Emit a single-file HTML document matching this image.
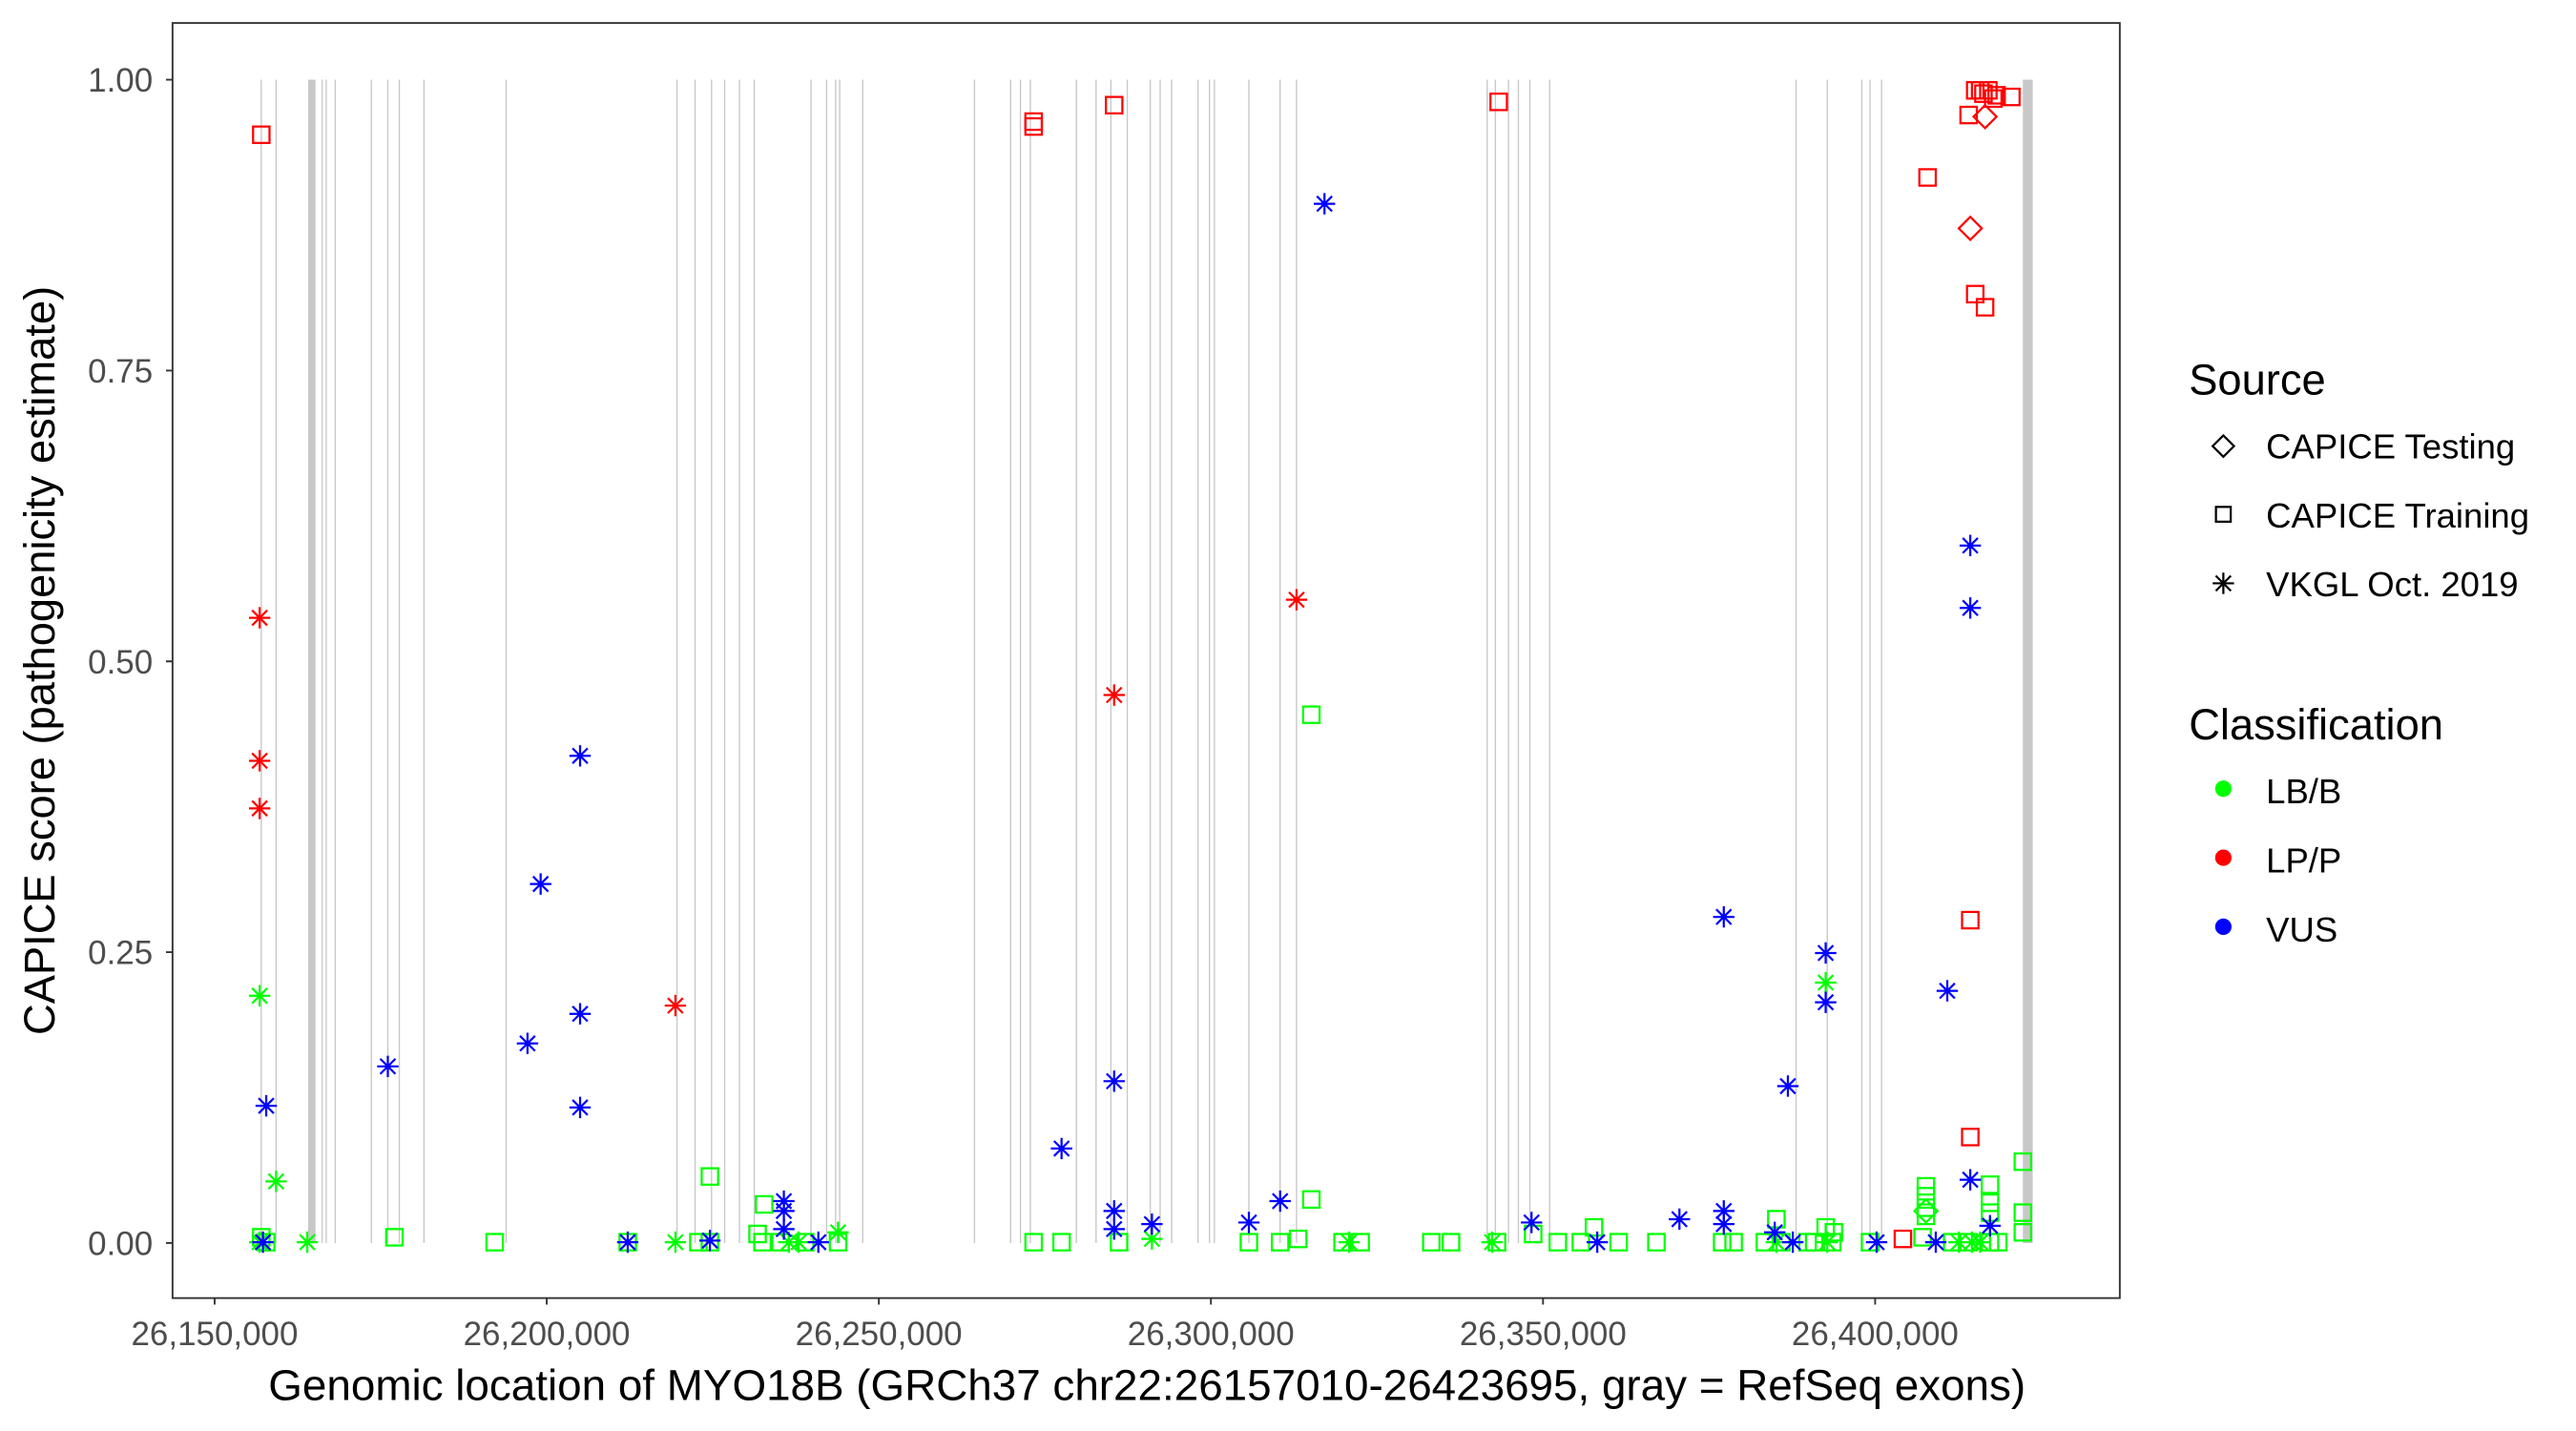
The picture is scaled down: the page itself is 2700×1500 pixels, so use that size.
<!DOCTYPE html>
<html><head><meta charset="utf-8"><style>html,body{margin:0;padding:0;background:#fff}svg{display:block}</style></head><body>
<svg xmlns="http://www.w3.org/2000/svg" xmlns:xlink="http://www.w3.org/1999/xlink" width="2700" height="1500" viewBox="0 0 1567.6 870.9" font-family="Liberation Sans, Arial, sans-serif">
<defs>
<path id="a" d="M-6.5 0H6.5M0-6.5V6.5M-4.6-4.6L4.6 4.6M-4.6 4.6L4.6-4.6" fill="none" stroke-width="1.3"/>
<rect id="s" x="-5" y="-5" width="10" height="10" fill="none" stroke-width="1.3"/>
<path id="d" d="M0-7L7 0 0 7-7 0Z" fill="none" stroke-width="1.3"/>
</defs>
<rect x="0" y="0" width="1567.6" height="870.9" fill="#fff"/>
<g stroke="#c8c8c8" stroke-width="0.8">
<path d="M159 48.5V756.5M168 48.5V756.5M196 48.5V756.5M198.5 48.5V756.5M204 48.5V756.5M226 48.5V756.5M236 48.5V756.5M243 48.5V756.5M258 48.5V756.5M308 48.5V756.5M412 48.5V756.5M423 48.5V756.5M433 48.5V756.5M441 48.5V756.5M450 48.5V756.5M459 48.5V756.5M493.5 48.5V756.5M503 48.5V756.5M508.5 48.5V756.5M511 48.5V756.5M525 48.5V756.5M593 48.5V756.5M615 48.5V756.5M621 48.5V756.5M627 48.5V756.5M655 48.5V756.5M667 48.5V756.5M676 48.5V756.5M686 48.5V756.5M700 48.5V756.5M706 48.5V756.5M713 48.5V756.5M729 48.5V756.5M736 48.5V756.5M739 48.5V756.5M760 48.5V756.5M779 48.5V756.5M789 48.5V756.5M905 48.5V756.5M910 48.5V756.5M918 48.5V756.5M924 48.5V756.5M931 48.5V756.5M943 48.5V756.5M1093 48.5V756.5M1112 48.5V756.5M1133 48.5V756.5M1138 48.5V756.5M1145 48.5V756.5"/>
</g>
<rect x="187.5" y="48.5" width="4.5" height="708" fill="#c8c8c8"/>
<rect x="1231" y="48.5" width="6" height="708" fill="#c8c8c8"/>
<g stroke="#00ff00">
<use href="#s" x="798" y="435"/><use href="#s" x="432" y="716"/><use href="#s" x="465" y="733"/><use href="#s" x="1231" y="707"/><use href="#s" x="798" y="730"/><use href="#s" x="1211" y="721"/><use href="#s" x="1211" y="732"/><use href="#s" x="1211" y="738"/><use href="#s" x="1172" y="722"/><use href="#s" x="1172" y="728"/><use href="#s" x="1172" y="735"/><use href="#s" x="1172" y="740"/><use href="#s" x="1081" y="742"/><use href="#s" x="1111" y="747"/><use href="#s" x="1116" y="750"/><use href="#s" x="970" y="747"/><use href="#s" x="1231" y="738"/><use href="#s" x="1231" y="750"/><use href="#s" x="240" y="753"/><use href="#s" x="301" y="756"/><use href="#s" x="382" y="756"/><use href="#s" x="425" y="756"/><use href="#s" x="432" y="756"/><use href="#s" x="461" y="751"/><use href="#s" x="464" y="756"/><use href="#s" x="475" y="756"/><use href="#s" x="490" y="756"/><use href="#s" x="510" y="756"/><use href="#s" x="629" y="756"/><use href="#s" x="646" y="756"/><use href="#s" x="681" y="756"/><use href="#s" x="760" y="756"/><use href="#s" x="779" y="756"/><use href="#s" x="790" y="754"/><use href="#s" x="817" y="756"/><use href="#s" x="828" y="756"/><use href="#s" x="871" y="756"/><use href="#s" x="883" y="756"/><use href="#s" x="911" y="756"/><use href="#s" x="933" y="751"/><use href="#s" x="948" y="756"/><use href="#s" x="962" y="756"/><use href="#s" x="985" y="756"/><use href="#s" x="1008" y="756"/><use href="#s" x="1048" y="756"/><use href="#s" x="1055" y="756"/><use href="#s" x="1074" y="756"/><use href="#s" x="1084" y="756"/><use href="#s" x="1100" y="756"/><use href="#s" x="1104" y="756"/><use href="#s" x="1115" y="756"/><use href="#s" x="1138" y="756"/><use href="#s" x="1170" y="753"/><use href="#s" x="1188" y="756"/><use href="#s" x="1198" y="756"/><use href="#s" x="1211" y="756"/><use href="#s" x="1216" y="756"/><use href="#s" x="159" y="753"/><use href="#s" x="162" y="756"/>
<use href="#d" x="1172" y="737"/>
<use href="#a" x="158" y="606"/><use href="#a" x="168" y="719"/><use href="#a" x="1111" y="598"/><use href="#a" x="158" y="756"/><use href="#a" x="187" y="756"/><use href="#a" x="411" y="756"/><use href="#a" x="510" y="750"/><use href="#a" x="701" y="754"/><use href="#a" x="821" y="756"/><use href="#a" x="908" y="756"/><use href="#a" x="1081" y="756"/><use href="#a" x="1112" y="756"/><use href="#a" x="1192" y="756"/><use href="#a" x="1200" y="756"/><use href="#a" x="1205" y="756"/><use href="#a" x="480" y="756"/><use href="#a" x="486" y="756"/>
</g>
<g stroke="#0000ff">
<use href="#a" x="806" y="124"/><use href="#a" x="1199" y="332"/><use href="#a" x="1199" y="370"/><use href="#a" x="353" y="460"/><use href="#a" x="329" y="538"/><use href="#a" x="353" y="617"/><use href="#a" x="321" y="635"/><use href="#a" x="236" y="649"/><use href="#a" x="353" y="674"/><use href="#a" x="162" y="673"/><use href="#a" x="1049" y="558"/><use href="#a" x="1111" y="580"/><use href="#a" x="1111" y="610"/><use href="#a" x="1185" y="603"/><use href="#a" x="1088" y="661"/><use href="#a" x="678" y="658"/><use href="#a" x="646" y="699"/><use href="#a" x="1199" y="718"/><use href="#a" x="678" y="737"/><use href="#a" x="678" y="748"/><use href="#a" x="701" y="745"/><use href="#a" x="760" y="744"/><use href="#a" x="779" y="731"/><use href="#a" x="932" y="744"/><use href="#a" x="1022" y="742"/><use href="#a" x="1049" y="737"/><use href="#a" x="1049" y="745"/><use href="#a" x="477" y="731"/><use href="#a" x="477" y="737"/><use href="#a" x="477" y="748"/><use href="#a" x="432" y="755"/><use href="#a" x="382" y="756"/><use href="#a" x="498" y="756"/><use href="#a" x="972" y="756"/><use href="#a" x="1142" y="756"/><use href="#a" x="1178" y="756"/><use href="#a" x="1211" y="746"/><use href="#a" x="1091" y="756"/><use href="#a" x="160" y="756"/><use href="#a" x="1080" y="750"/>
</g>
<g stroke="#ff0000">
<use href="#s" x="159" y="82"/><use href="#s" x="629" y="74"/><use href="#s" x="629" y="77"/><use href="#s" x="678" y="64"/><use href="#s" x="912" y="62"/><use href="#s" x="1173" y="108"/><use href="#s" x="1198" y="70"/><use href="#s" x="1202" y="55"/><use href="#s" x="1205" y="55"/><use href="#s" x="1207" y="57"/><use href="#s" x="1210" y="55"/><use href="#s" x="1213" y="60"/><use href="#s" x="1215" y="58"/><use href="#s" x="1224" y="59"/><use href="#s" x="1202" y="179"/><use href="#s" x="1208" y="187"/><use href="#s" x="1199" y="560"/><use href="#s" x="1199" y="692"/><use href="#s" x="1158" y="754"/>
<use href="#d" x="1208" y="71"/><use href="#d" x="1199" y="139"/>
<use href="#a" x="158" y="376"/><use href="#a" x="158" y="463"/><use href="#a" x="158" y="492"/><use href="#a" x="411" y="612"/><use href="#a" x="678" y="423"/><use href="#a" x="789" y="365"/>
</g>
<rect x="105" y="14" width="1185" height="776" fill="none" stroke="#333" stroke-width="1.1"/>
<g stroke="#333" stroke-width="1.1">
<path d="M101 48.5H105M101 225.5H105M101 402.5H105M101 579.5H105M101 756.5H105"/>
<path d="M130.6 790V794M332.7 790V794M534.8 790V794M736.9 790V794M939 790V794M1141.1 790V794"/>
</g>
<g fill="#4d4d4d" font-size="20.3" text-anchor="end">
<text x="93" y="55.8">1.00</text><text x="93" y="232.8">0.75</text><text x="93" y="409.8">0.50</text><text x="93" y="586.8">0.25</text><text x="93" y="763.8">0.00</text>
</g>
<g fill="#4d4d4d" font-size="20.3" text-anchor="middle">
<text x="130.6" y="818.6">26,150,000</text><text x="332.7" y="818.6">26,200,000</text><text x="534.8" y="818.6">26,250,000</text><text x="736.9" y="818.6">26,300,000</text><text x="939" y="818.6">26,350,000</text><text x="1141.1" y="818.6">26,400,000</text>
</g>
<text x="698" y="852" font-size="26.6" text-anchor="middle" fill="#000">Genomic location of MYO18B (GRCh37 chr22:26157010-26423695, gray = RefSeq exons)</text>
<text transform="translate(33,402) rotate(-90)" font-size="26.3" text-anchor="middle" fill="#000">CAPICE score (pathogenicity estimate)</text>
<g fill="#000">
<text x="1332" y="240" font-size="26.3">Source</text>
<text x="1379" y="279" font-size="21.2">CAPICE Testing</text>
<text x="1379" y="321" font-size="21.2">CAPICE Training</text>
<text x="1379" y="363" font-size="21.2">VKGL Oct. 2019</text>
<text x="1332" y="450" font-size="26.3">Classification</text>
<text x="1379" y="489" font-size="21.2">LB/B</text>
<text x="1379" y="531" font-size="21.2">LP/P</text>
<text x="1379" y="573" font-size="21.2">VUS</text>
</g>
<g stroke="#000">
<path d="M1353 265L1359.5 271.5 1353 278 1346.5 271.5Z" fill="none" stroke-width="1.3"/>
<rect x="1348.5" y="308.5" width="9" height="9" fill="none" stroke-width="1.3"/>
<path d="M1346.5 355H1359.5M1353 348.5V361.5M1348.4 350.4L1357.6 359.6M1348.4 359.6L1357.6 350.4" stroke-width="1.3"/>
</g>
<circle cx="1353" cy="480" r="5" fill="#00ff00"/>
<circle cx="1353" cy="522" r="5" fill="#ff0000"/>
<circle cx="1353" cy="564" r="5" fill="#0000ff"/>
</svg>
</body></html>
